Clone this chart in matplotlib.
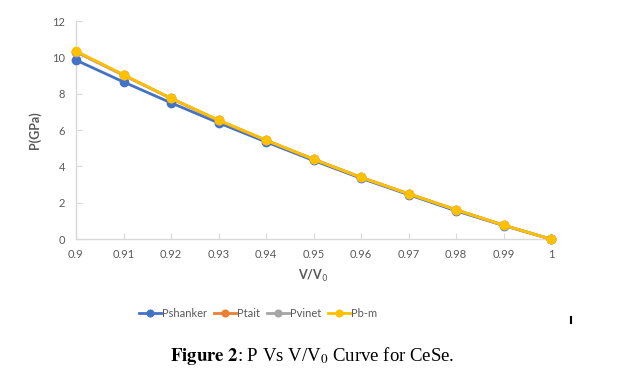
import matplotlib.pyplot as plt
from matplotlib.lines import Line2D
import numpy as np

plt.rcParams.update({
    "font.family": ["Lato", "DejaVu Sans"],
    "font.size": 7.5,
})

# Data
v_ratio = [0.9, 0.91, 0.92, 0.93, 0.94, 0.95, 0.96, 0.97, 0.98, 0.99, 1.0]
p_shanker = [9.85, 8.65, 7.5, 6.4, 5.35, 4.33, 3.35, 2.45, 1.56, 0.75, 0.0]
p_tait = [10.3, 9.02, 7.74, 6.53, 5.44, 4.4, 3.4, 2.5, 1.62, 0.77, 0.0]
p_vinet = [10.32, 9.03, 7.75, 6.54, 5.44, 4.4, 3.4, 2.49, 1.61, 0.77, 0.0]
p_bm = [10.35, 9.05, 7.75, 6.55, 5.45, 4.4, 3.4, 2.5, 1.62, 0.77, 0.0]

series = [
    ("Pshanker", p_shanker, "#4472C4"),
    ("Ptait", p_tait, "#ED7D31"),
    ("Pvinet", p_vinet, "#A5A5A5"),
    ("Pb-m", p_bm, "#FFC000"),
]

fig = plt.figure(figsize=(6.25, 3.76), dpi=100)
ax = fig.add_axes([0.1216, 0.364, 0.76, 0.58])

for name, vals, col in series:
    ax.plot(v_ratio, vals, color=col, lw=2.0, marker="o", ms=6, label=name,
            clip_on=False, zorder=3)

ax.set_xlim(0.9, 1.0)
ax.set_ylim(0, 12)
ax.set_xticks(v_ratio)
ax.set_xticklabels(["0.9", "0.91", "0.92", "0.93", "0.94", "0.95", "0.96",
                    "0.97", "0.98", "0.99", "1"])
ax.set_yticks(np.arange(0, 13, 2))

for s in ["top", "right"]:
    ax.spines[s].set_visible(False)
for s in ["left", "bottom"]:
    ax.spines[s].set_color("#d9d9d9")
    ax.spines[s].set_linewidth(1.0)
ax.tick_params(direction="in", length=4, color="#d9d9d9", labelcolor="#595959",
               labelsize=8)
ax.tick_params(axis="x", pad=7)
ax.tick_params(axis="y", pad=8)

ax.set_xlabel("V/V$_0$", fontsize=9, fontweight="bold", color="#595959", labelpad=6)
ax.set_ylabel("P(GPa)", fontsize=9, fontweight="bold", color="#595959", labelpad=8)

ax.legend(loc="center", bbox_to_anchor=(0.383, -0.34), ncol=4, frameon=False,
          fontsize=8, handlelength=2.0, handletextpad=0.1, columnspacing=0.6,
          markerscale=0.8, labelcolor="#595959")

# small mark at right of the legend row
fig.add_artist(Line2D([0.9136, 0.9136], [0.142, 0.156], color="black", lw=1.5,
                      transform=fig.transFigure))

fig.text(0.5, 0.053, r"$\mathbf{Figure\ 2}$: P Vs V/V$_0$ Curve for CeSe.",
         ha="center", va="center", fontsize=13.5, family="Liberation Serif",
         math_fontfamily="stix")

plt.savefig("out.png", dpi=100)
